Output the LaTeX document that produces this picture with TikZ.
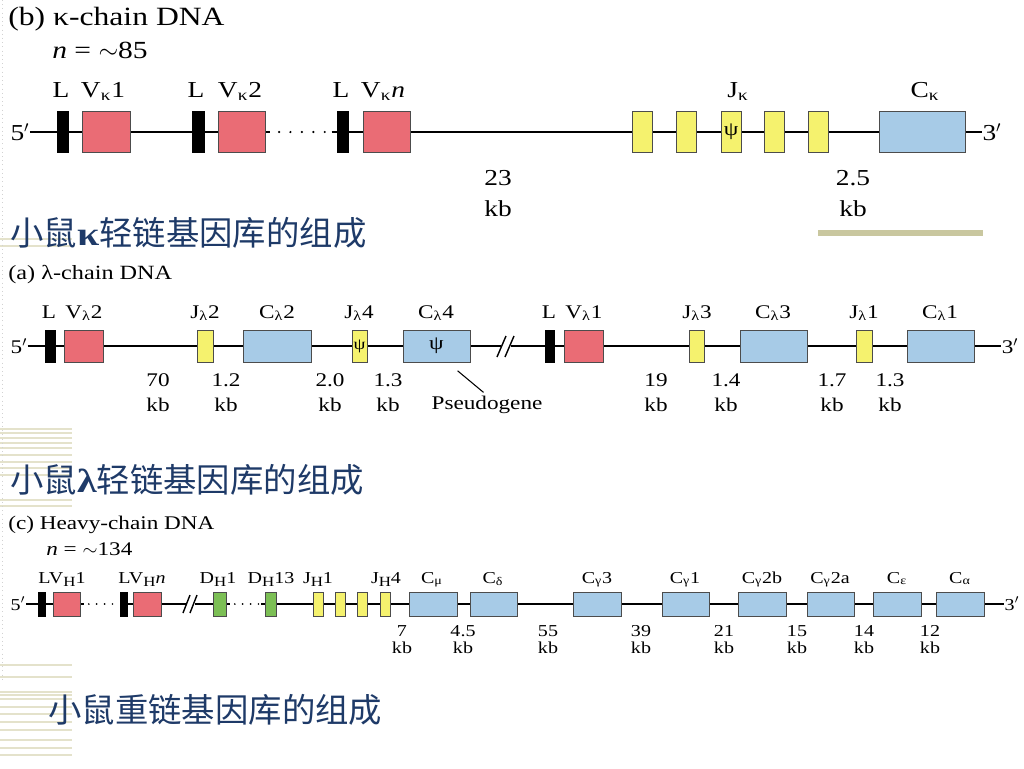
\documentclass[tikz,border=0pt]{standalone}
\usepackage{fontspec}
\setmainfont{Liberation Serif}[FakeStretch=1.2]
\newfontfamily\cjk{Noto Sans CJK SC}
\usetikzlibrary{positioning,backgrounds}
\definecolor{vred}{HTML}{EA6C75}
\definecolor{jyel}{HTML}{F5F26E}
\definecolor{cblue}{HTML}{A7CBE7}
\definecolor{dgrn}{HTML}{7CBF55}
\definecolor{navy}{HTML}{1E3A68}
\definecolor{khaki}{HTML}{C9C79F}
\definecolor{stripe}{HTML}{E4E2CB}
\newcommand{\Hs}{\raisebox{-0.45ex}{\fontsize{8}{9}\selectfont H}}

\begin{document}
\begin{tikzpicture}[x=0.02cm,y=-0.02cm,
  seg/.style={draw=black!70,line width=0.5pt,inner sep=0pt,outer sep=0pt},
  lbar/.style={seg,fill=black,draw=black},
  vbox/.style={seg,fill=vred},
  jbox/.style={seg,fill=jyel},
  cbox/.style={seg,fill=cblue},
  dbox/.style={seg,fill=dgrn},
  dna/.style={line width=0.8pt},
  gap/.style={line width=1.4pt,line cap=round,dash pattern=on 0pt off 6.5pt},
  lab/.style={inner sep=0pt,font=\fontsize{13}{15}\selectfont},
  llab/.style={inner sep=0pt,font=\fontsize{11}{13}\selectfont},
  hlab/.style={inner sep=0pt,font=\fontsize{9.5}{11}\selectfont},
  psi/.style={inner sep=0pt,font=\fontsize{9}{10}\selectfont},
  cjkt/.style={inner sep=0pt,anchor=west,text=navy,font=\cjk\fontsize{19}{22}\selectfont}
]
\useasboundingbox (0,0) rectangle (1024,768);
% --- slide decoration ---
\foreach \y in {239,246,429,433,438,443,448,455,462,468,475,500,506,665,677,692,695,699,707,714,722,730,740,748,755}
  \draw[stripe,line width=1.1pt] (0,\y) -- (72,\y);
\draw[gray!35,dotted] (2,0) -- (2,680);

% --- kappa chain ---
\node[lab,anchor=west,font=\fontsize{15}{17}\selectfont] (ktitle) at (8,19) {(b) κ-chain DNA};
\node[lab,anchor=west,font=\fontsize{14}{16}\selectfont] (kn) at (52,50) {\textit{n} = $\sim$85};
\node[lab] (k5) at (20,132) {5$'$};
\node[lab] (k3) at (992,132) {3$'$};
\foreach \nm/\a/\b in {kl1/57/68,kl2/192/204,kl3/337/348}
  \node[lbar,minimum width={(\b-\a)*0.02cm},minimum height=0.82cm] (\nm) at ({(\a+\b)/2},132) {};
\foreach \nm/\a/\b in {kv1/82/130,kv2/218/265,kvn/363/410}
  \node[vbox,minimum width={(\b-\a)*0.02cm},minimum height=0.82cm] (\nm) at ({(\a+\b)/2},132) {};
\foreach \nm/\a/\b in {kj1/632/652,kj2/676/696,kj3/721/741,kj4/764/784,kj5/808/828}
  \node[jbox,minimum width={(\b-\a)*0.02cm},minimum height=0.82cm] (\nm) at ({(\a+\b)/2},132) {};
\node[psi,font=\fontsize{11}{12}\selectfont] (kpsi) at (kj3) {ψ};
\node[cbox,minimum width=1.72cm,minimum height=0.82cm] (kc) at (922,132) {};
\begin{scope}[on background layer]
\draw[dna,line width=1pt] (k5.east) -- ([xshift=3pt]kv2.east);
\draw[gap] ([xshift=8pt]kv2.east) -- ([xshift=-6pt]kl3.west);
\draw[dna,line width=1pt] ([xshift=-3pt]kl3.west) -- (k3.west);
\end{scope}
\foreach \x/\t [count=\i] in {61/L,196/L,341/L,103/V\textsubscript{κ}1,240/V\textsubscript{κ}2,383/V\textsubscript{κ}\textit{n},738/J\textsubscript{κ},925/C\textsubscript{κ}}
  \node[lab,anchor=base] (klab\i) at (\x,97) {\t};
\foreach \x/\v [count=\i] in {498/23,853/2.5}{
  \node[lab] (kkbn\i) at (\x,178) {\v};
  \node[lab] (kkbu\i) at (\x,209) {kb};
}
\draw[khaki,line width=3pt] (818,233) -- (983,233);
\node[cjkt] (kname) at (10,233) {小鼠{\rmfamily\bfseries κ}轻链基因库的组成};

% --- lambda chain ---
\node[llab,anchor=west,font=\fontsize{11.5}{13}\selectfont] (ltitle) at (8,275) {(a) λ-chain DNA};
\node[llab] (l5) at (19,346) {5$'$};
\node[llab] (l3) at (1010,346) {3$'$};
\foreach \nm/\a/\b in {ll2/45/55,ll1/545/554}
  \node[lbar,minimum width={(\b-\a)*0.02cm},minimum height=0.64cm] (\nm) at ({(\a+\b)/2},346) {};
\foreach \nm/\a/\b in {lv2/64/103,lv1/564/603}
  \node[vbox,minimum width={(\b-\a)*0.02cm},minimum height=0.64cm] (\nm) at ({(\a+\b)/2},346) {};
\foreach \nm/\a/\b in {lj2/197/213,lj4/352/367,lj3/689/704,lj1/856/872}
  \node[jbox,minimum width={(\b-\a)*0.02cm},minimum height=0.64cm] (\nm) at ({(\a+\b)/2},346) {};
\foreach \nm/\a/\b in {lc2/243/311,lc4/403/470,lc3/740/807,lc1/907/974}
  \node[cbox,minimum width={(\b-\a)*0.02cm},minimum height=0.64cm] (\nm) at ({(\a+\b)/2},346) {};
\node[psi] (lpsi1) at (lj4) {ψ};
\node[psi,font=\fontsize{11}{12}\selectfont] (lpsi2) at (lc4) {ψ};
\coordinate (lbrkA) at (501,346);
\coordinate (lbrkB) at (511,346);
\begin{scope}[on background layer]
\draw[dna] (l5.east) -- (lbrkA);
\draw[dna] (lbrkB) -- (l3.west);
\end{scope}
\draw[dna] (497,357) -- (506,336);
\draw[dna] (505,357) -- (514,336);
\foreach \x/\t [count=\i] in {49/L,84/V\textsubscript{λ}2,205/J\textsubscript{λ}2,277/C\textsubscript{λ}2,359/J\textsubscript{λ}4,436/C\textsubscript{λ}4,549/L,584/V\textsubscript{λ}1,697/J\textsubscript{λ}3,773/C\textsubscript{λ}3,864/J\textsubscript{λ}1,940/C\textsubscript{λ}1}
  \node[llab,anchor=base] (llab\i) at (\x,318) {\t};
\foreach \x/\v [count=\i] in {158/70,226/1.2,330/2.0,388/1.3,656/19,726/1.4,832/1.7,890/1.3}{
  \node[llab] (lkbn\i) at (\x,380) {\v};
  \node[llab] (lkbu\i) at (\x,405) {kb};
}
\node[llab] (pseudo) at (487,405) {Pseudogene};
\draw[line width=0.6pt] ([xshift=12pt,yshift=-5pt]lc4.south) -- ([xshift=-2pt,yshift=2pt]pseudo.north);
\node[cjkt] (lname) at (10,480) {小鼠{\rmfamily\bfseries λ}轻链基因库的组成};

% --- heavy chain ---
\node[hlab,anchor=west,font=\fontsize{11}{12}\selectfont] (htitle) at (8,525) {(c) Heavy-chain DNA};
\node[hlab,anchor=west,font=\fontsize{11}{12}\selectfont] (hn) at (46,549) {\textit{n} = $\sim$134};
\node[hlab] (h5) at (18,604) {5$'$};
\node[hlab] (h3) at (1012,604) {3$'$};
\foreach \nm/\a/\b in {hl1/38/45,hln/120/127}
  \node[lbar,minimum width={(\b-\a)*0.02cm},minimum height=0.48cm] (\nm) at ({(\a+\b)/2},604) {};
\foreach \nm/\a/\b in {hv1/53/80,hvn/133/161}
  \node[vbox,minimum width={(\b-\a)*0.02cm},minimum height=0.48cm] (\nm) at ({(\a+\b)/2},604) {};
\foreach \nm/\a/\b in {hd1/213/226,hd13/265/276}
  \node[dbox,minimum width={(\b-\a)*0.02cm},minimum height=0.48cm] (\nm) at ({(\a+\b)/2},604) {};
\foreach \nm/\a/\b in {hj1/313/323,hj2/335/345,hj3/357/367,hj4/380/390}
  \node[jbox,minimum width={(\b-\a)*0.02cm},minimum height=0.48cm] (\nm) at ({(\a+\b)/2},604) {};
\foreach \nm/\a/\b in {hcm/409/457,hcd/470/517,hcg3/573/621,hcg1/662/709,hcgb/738/786,hcga/807/854,hce/873/921,hca/936/984}
  \node[cbox,minimum width={(\b-\a)*0.02cm},minimum height=0.48cm] (\nm) at ({(\a+\b)/2},604) {};
\coordinate (hbrkA) at (187,604);
\coordinate (hbrkB) at (195,604);
\begin{scope}[on background layer]
\draw[dna] (h5.east) -- ([xshift=2pt]hv1.east);
\draw[gap,line width=1.1pt,dash pattern=on 0pt off 4.5pt] ([xshift=5pt]hv1.east) -- ([xshift=-4pt]hln.west);
\draw[dna] (hln.west) -- (hbrkA);
\draw[dna] (hbrkB) -- ([xshift=2pt]hd1.east);
\draw[gap,line width=1.1pt,dash pattern=on 0pt off 4.5pt] ([xshift=5pt]hd1.east) -- ([xshift=-3pt]hd13.west);
\draw[dna] ([xshift=-2pt]hd13.west) -- (h3.west);
\end{scope}
\draw[dna] (183,613) -- (190,595);
\draw[dna] (190,613) -- (197,595);
\foreach \x/\t [count=\i] in {62/LV\Hs1,142/LV\Hs\textit{n},218/D\Hs1,271/D\Hs13,318/J\Hs1,386/J\Hs4,432/C\textsubscript{μ},493/C\textsubscript{δ},597/C\textsubscript{γ}3,685/C\textsubscript{γ}1,762/C\textsubscript{γ}2b,830/C\textsubscript{γ}2a,897/C\textsubscript{ε},960/C\textsubscript{α}}
  \node[hlab,anchor=base] (hlab\i) at (\x,583) {\t};
\foreach \x/\v [count=\i] in {402/7,463/4.5,548/55,641/39,724/21,797/15,864/14,930/12}{
  \node[hlab] (hkbn\i) at (\x,631) {\v};
  \node[hlab] (hkbu\i) at (\x,648) {kb};
}
\node[cjkt] (hname) at (48,710) {小鼠重链基因库的组成};
\end{tikzpicture}
\end{document}
